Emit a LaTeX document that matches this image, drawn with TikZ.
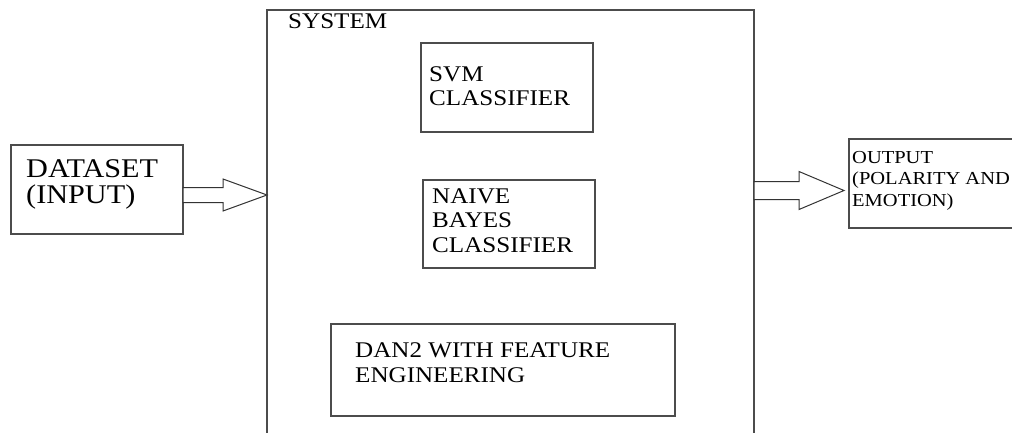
\documentclass[tikz,border=0pt]{standalone}
\usepackage{fontspec}
\setmainfont[FakeStretch=1.12]{Liberation Serif}
\usetikzlibrary{calc}
\begin{document}
\begin{tikzpicture}[x=1pt,y=-1pt,line join=miter,
    box/.style={draw=black!70,line width=1.3pt,inner sep=0,outer sep=0,anchor=north west},
    txt/.style={anchor=base west,inner sep=0,align=left,font=\fontsize{22.4}{24.5}\selectfont},
    blockarrow/.style={draw=black!80,line width=1pt,fill=white}]
    \useasboundingbox (0,0) rectangle (1012,433);
    %\draw[gray!30] (0,0) grid[step=50] (1012,433);
    % boxes
    \node[box,minimum width=487,minimum height=440] (sys) at (267,10) {};
    \node[box,minimum width=172,minimum height=89] (data) at (11,145) {};
    \node[box,minimum width=172,minimum height=89] (svm) at (421,43) {};
    \node[box,minimum width=172,minimum height=88] (nb) at (423,180) {};
    \node[box,minimum width=344,minimum height=92] (dan) at (331,324) {};
    \node[box,minimum width=200,minimum height=89] (out) at (849,139) {};
    % texts (base = last line)
    \node[txt] (systxt) at (288,29) {SYSTEM};
    \node[txt] (svmtxt) at (429,106) {SVM\\CLASSIFIER};
    \node[txt] (nbtxt) at (432,252) {NAIVE\\BAYES\\CLASSIFIER};
    \node[txt] (dantxt) at (355,382) {DAN2 WITH FEATURE\\ENGINEERING};
    \node[txt,font=\fontsize{27}{27}\selectfont] (datatxt) at (26,204) {DATASET\\(INPUT)};
    \node[txt,font=\fontsize{18.3}{21.5}\selectfont] (outtxt) at (852,206) {OUTPUT\\(POLARITY AND\\EMOTION)};
    % arrows
    \coordinate (inmid) at (200,195);
    \coordinate (outmid) at (800,190.5);
    \draw[blockarrow] ($(data.east |- inmid)+(0,-7.5)$) -- ++(40,0) -- ++(0,-8.5)
        -- (sys.west |- inmid) -- ++(-44,16) -- ++(0,-8.5)
        -- ($(data.east |- inmid)+(0,7.5)$) -- cycle;
    \draw[blockarrow] ($(sys.east |- outmid)+(0,-9)$) -- ++(45,0) -- ++(0,-10)
        -- ($(out.west |- outmid)+(-5,0)$) -- ++(-45,19) -- ++(0,-10)
        -- ($(sys.east |- outmid)+(0,9)$) -- cycle;
\end{tikzpicture}
\end{document}
